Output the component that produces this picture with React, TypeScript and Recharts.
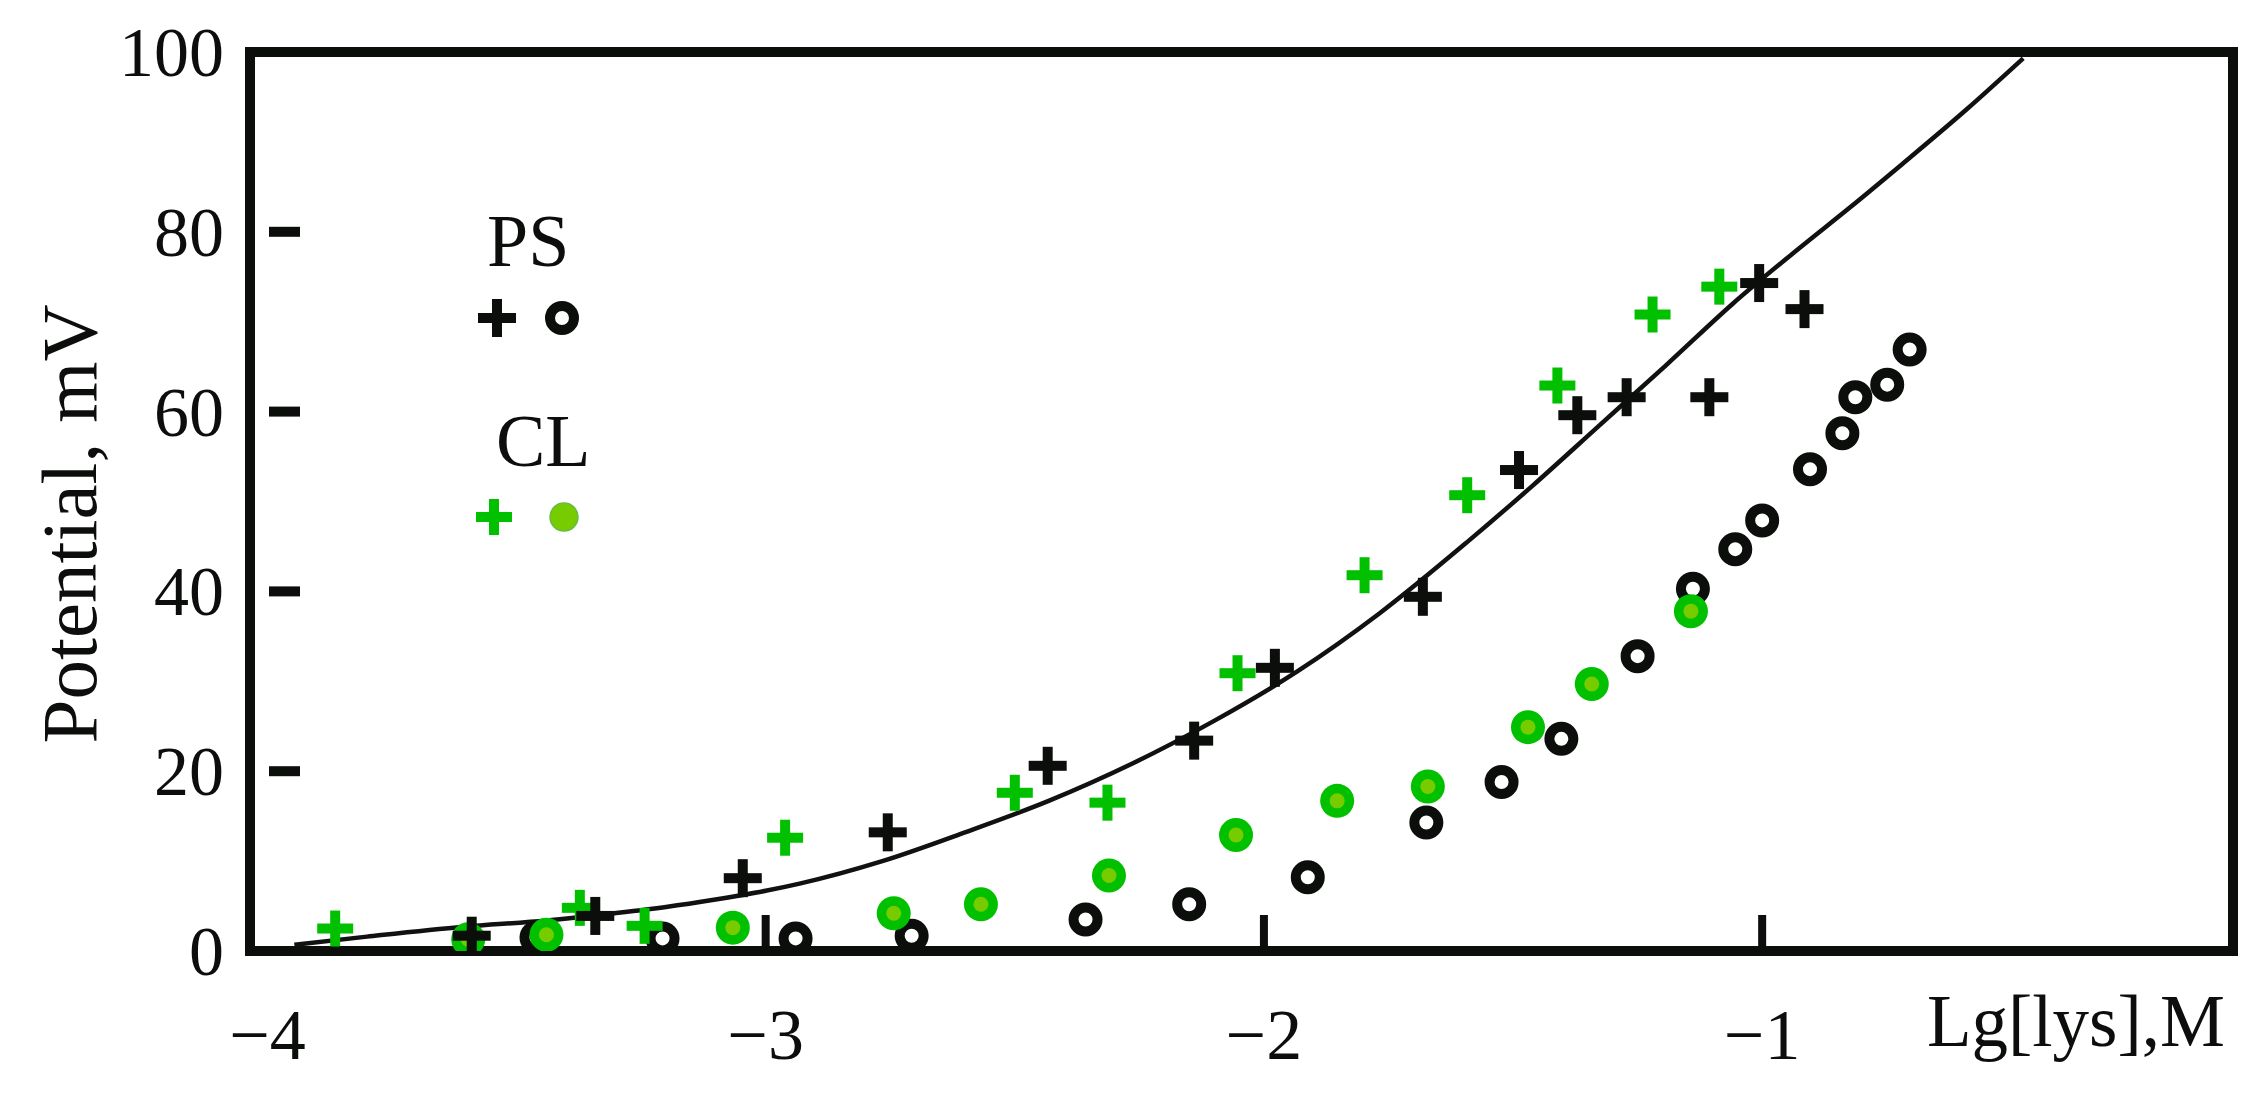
import React from 'react';
import { ComposedChart, Line, Scatter, XAxis, YAxis, ReferenceArea, Legend } from 'recharts';

// lg[lys] on x, potential (mV) on y
const psPlusX = [-3.59, -3.342, -3.046, -2.755, -2.434, -2.14, -1.978, -1.681, -1.488, -1.371, -1.272, -1.106, -1.006, -0.915];
const psPlusY = [1.7, 3.9, 8.1, 13.2, 20.6, 23.4, 31.5, 39.4, 53.5, 59.6, 61.6, 61.6, 74.3, 71.4];

const psRingX = [-3.46, -3.207, -2.94, -2.707, -2.358, -2.15, -1.912, -1.674, -1.523, -1.403, -1.25, -1.139, -1.054, -1.0, -0.904, -0.839, -0.813, -0.749, -0.704];
const psRingY = [1.5, 1.4, 1.4, 1.7, 3.5, 5.2, 8.2, 14.3, 18.8, 23.6, 32.8, 40.3, 44.7, 47.9, 53.6, 57.6, 61.6, 63.0, 66.9];

const clPlusX = [-3.864, -3.373, -3.243, -2.961, -2.5, -2.314, -2.053, -1.798, -1.592, -1.411, -1.22, -1.086];
const clPlusY = [2.5, 4.8, 2.8, 12.6, 17.6, 16.5, 30.9, 41.8, 50.7, 62.9, 70.8, 73.9];

const clDotX = [-3.597, -3.44, -3.066, -2.743, -2.568, -2.311, -2.056, -1.853, -1.671, -1.47, -1.342, -1.143];
const clDotY = [1.3, 1.8, 2.6, 4.2, 5.2, 8.4, 12.9, 16.7, 18.3, 24.9, 29.7, 37.8];

// fitted curve, traced along its length
const fitX = [-3.946, -3.8, -3.606, -3.44, -3.319, -3.2, -3.104, -3.0, -2.932, -2.766, -2.6, -2.432, -2.266, -2.1, -1.933, -1.767, -1.594, -1.46, -1.326, -1.192, -1.059, -0.925, -0.824, -0.724, -0.59, -0.476];
const fitY = [0.7, 1.6, 2.7, 3.4, 4.1, 4.9, 5.7, 6.7, 7.5, 10.0, 13.2, 16.7, 20.8, 25.6, 31.1, 37.6, 45.4, 51.8, 58.5, 65.2, 72.0, 78.2, 82.7, 87.3, 93.6, 99.3];

const xTicks = [-4, -3, -2, -1];
const yTicks = [0, 20, 40, 60, 80, 100];
const xDomain = [-4.035, -0.055];
const yDomain = [0, 100];

const INK = '#0c0e0c';
const GREEN = '#00c000';
const LIME = '#77cc00';
const FONT = '"Liberation Serif", "Times New Roman", serif';

const pts = (xs: number[], ys: number[]) => xs.map((x, i) => ({ x, y: ys[i] }));

const psPlus = pts(psPlusX, psPlusY);
const psRing = pts(psRingX, psRingY);
const clPlus = pts(clPlusX, clPlusY);
const clDot = pts(clDotX, clDotY);
const fit = pts(fitX, fitY);

function PlusMark({ cx, cy, color, size }: any) {
  const h = size / 2;
  return (
    <g>
      <rect x={cx - h} y={cy - 5} width={size} height={10} fill={color} />
      <rect x={cx - 5} y={cy - h} width={10} height={size} fill={color} />
    </g>
  );
}

const blackPlus = (p: any) => <PlusMark cx={p.cx} cy={p.cy} color={INK} size={38} />;
const greenPlus = (p: any) => <PlusMark cx={p.cx} cy={p.cy} color={GREEN} size={36} />;
const ring = (p: any) => <circle cx={p.cx} cy={p.cy} r={12} fill="none" stroke={INK} strokeWidth={10} />;
const greenDot = (p: any) => (
  <g>
    <circle cx={p.cx} cy={p.cy} r={17} fill={GREEN} />
    <circle cx={p.cx} cy={p.cy} r={7.5} fill={LIME} />
  </g>
);

const fmt = (v: number) => (v < 0 ? '\u2212' + Math.abs(v) : String(v));

function YTick({ x, y, payload }: any) {
  const v = payload.value;
  return (
    <g>
      <text x={x - 26} y={y} dy={24} textAnchor="end" fontSize={70} fontFamily={FONT} fill={INK}>
        {v}
      </text>
      {v > 0 && v < 100 && <rect x={x + 19} y={y - 5} width={31} height={10} fill={INK} />}
    </g>
  );
}

function XTick({ x, y, payload }: any) {
  const v = payload.value;
  return (
    <g>
      <text x={x} y={y + 108} textAnchor="middle" fontSize={72} fontFamily={FONT} fill={INK}>
        {fmt(v)}
      </text>
      {v > -4 && <rect x={x - 4} y={y - 36} width={8} height={32} fill={INK} />}
    </g>
  );
}

const yTitle = ({ viewBox }: any) => {
  const x = viewBox.x + 96;
  const y = viewBox.y + 472;
  return (
    <text x={x} y={y} transform={`rotate(-90, ${x}, ${y})`} textAnchor="middle" fontSize={79} fontFamily={FONT} fill={INK}>
      Potential, mV
    </text>
  );
};

const xTitle = ({ viewBox }: any) => (
  <text x={viewBox.x + viewBox.width - 8} y={viewBox.y + 95} textAnchor="end" fontSize={73} fontFamily={FONT} fill={INK}>
    Lg[lys],M
  </text>
);

// hand-placed key, like the original figure
const renderKey = () => (
  <svg width={700} height={600} style={{ display: 'block' }}>
    <g fontFamily={FONT} fontSize={74} fill={INK}>
      <text x={487} y={266}>PS</text>
      <text x={496} y={466}>CL</text>
    </g>
    <PlusMark cx={497} cy={318} color={INK} size={38} />
    <circle cx={562} cy={318} r={12} fill="none" stroke={INK} strokeWidth={10} />
    <PlusMark cx={494} cy={517} color={GREEN} size={36} />
    <circle cx={564} cy={517} r={14} fill={LIME} stroke="#66bb44" strokeWidth={1.5} />
  </svg>
);

export default function App() {
  return (
    <div style={{ position: 'absolute', left: 0, top: 0, width: 2267, height: 1111, background: '#fff' }}>
      <ComposedChart width={2267} height={1111} margin={{ top: 52, right: 34, left: 0, bottom: 0 }}>
        <XAxis
          type="number"
          dataKey="x"
          domain={xDomain}
          ticks={xTicks}
          allowDataOverflow
          height={160}
          axisLine={false}
          tickLine={false}
          tickSize={0}
          tickMargin={0}
          tick={<XTick />}
          label={{ content: xTitle }}
        />
        <YAxis
          type="number"
          dataKey="y"
          domain={yDomain}
          ticks={yTicks}
          allowDataOverflow
          width={250}
          axisLine={false}
          tickLine={false}
          tickSize={0}
          tickMargin={0}
          tick={<YTick />}
          label={{ content: yTitle }}
        />
        <Legend
          layout="vertical"
          align="center"
          verticalAlign="middle"
          content={renderKey}
          wrapperStyle={{ left: 0, top: 0, width: 700, height: 600 }}
        />
        <Scatter name="PS ring" data={psRing} shape={ring} isAnimationActive={false} />
        <Scatter name="CL dot" data={clDot} shape={greenDot} isAnimationActive={false} />
        <Scatter name="CL plus" data={clPlus} shape={greenPlus} isAnimationActive={false} />
        <Scatter name="PS plus" data={psPlus} shape={blackPlus} isAnimationActive={false} />
        <Line
          data={fit}
          dataKey="y"
          type="monotone"
          stroke="#111"
          strokeWidth={4.5}
          dot={false}
          activeDot={false}
          isAnimationActive={false}
        />
        <ReferenceArea
          x1={xDomain[0]}
          x2={xDomain[1]}
          y1={yDomain[0]}
          y2={yDomain[1]}
          fill="none"
          fillOpacity={0}
          stroke={INK}
          strokeWidth={10}
        />
      </ComposedChart>
    </div>
  );
}
